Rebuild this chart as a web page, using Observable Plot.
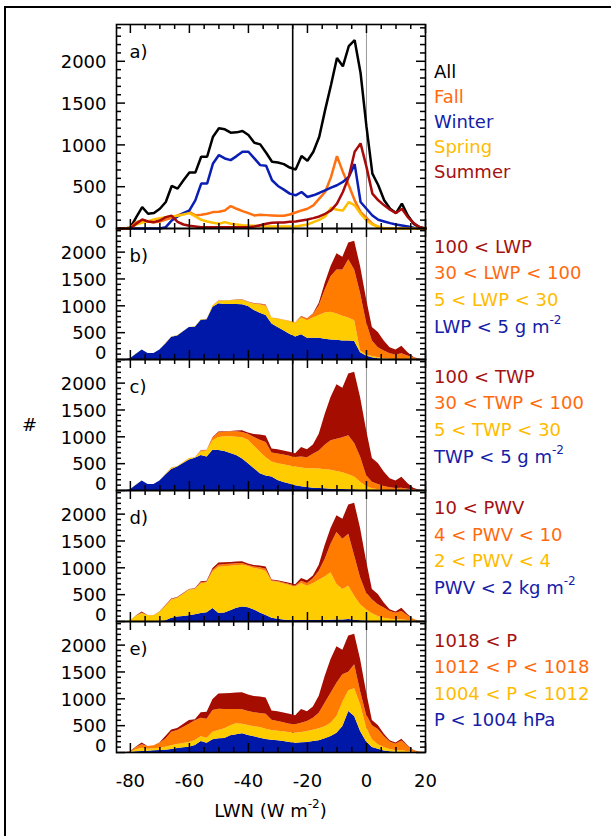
<!DOCTYPE html>
<html>
<head>
<meta charset="utf-8">
<script src="https://cdn.jsdelivr.net/npm/d3@7"></script>
<script src="https://cdn.jsdelivr.net/npm/@observablehq/plot@0.6"></script>
<style>
  html, body { margin: 0; padding: 0; background: white; }
  #fig { position: relative; width: 611px; height: 836px; background: white; overflow: hidden;
         font-family: "DejaVu Sans", sans-serif; font-size: 18px; }
  #fig svg { position: absolute; left: 0; }
  .t { position: absolute; white-space: nowrap; line-height: 18px; font-size: 18px; }
  .sup { font-size: 12px; position: relative; top: -9px; }
</style>
</head>
<body>
<div id="fig"></div>
<script>
// ---------- data ----------
const lwn = [-84,-82,-80,-78,-76,-74,-72,-70,-68,-66,
             -64,-62,-60,-58,-56,-54,-52,-50,-48,-46,
             -44,-42,-40,-38,-36,-34,-32,-30,-28,-26,
             -24,-22,-20,-18,-16,-14,-12,-10,-8,-6,
             -4,-2,0,2,4,6,8,10,12,14,
             16,18,20];
const xTicks = [-80, -60, -40, -20, 0, 20];
const yTicks = [0, 500, 1000, 1500, 2000];
const panelLabels = ["a)", "b)", "c)", "d)", "e)"];

// panel a: seasonal histograms
const allCases = [0,0,10,136,256,176,184,236,317,509,
  477,577,669,669,858,858,1098,1198,1186,1146,
  1150,1166,1118,1026,1006,906,798,790,770,729,
  705,866,810,918,1098,1419,1719,2040,1940,2180,
  2252,1860,1218,657,517,337,236,184,297,156,
  56,16,0];
const fall = [0,0,8,76,96,84,76,84,108,128,
  156,184,196,156,164,176,196,200,216,268,
  236,208,184,156,164,160,156,152,152,168,
  192,216,236,277,357,437,617,866,677,517,
  337,196,128,56,16,0,0,0,0,0,
  0,0,0];
const winter = [0,0,0,0,0,0,0,0,16,96,
  144,184,216,337,537,537,778,878,838,818,
  866,918,918,838,758,750,577,509,465,417,
  397,437,377,397,425,457,489,517,557,617,
  770,317,236,156,104,84,64,48,36,24,
  8,0,0];
const spring = [0,0,8,48,72,88,108,124,136,144,
  152,168,184,144,104,84,68,56,76,56,
  48,40,36,32,28,24,24,24,24,24,
  24,36,48,76,104,144,248,224,216,317,
  277,176,96,48,24,0,0,0,0,0,
  0,0,0];
const summer = [0,0,4,56,108,84,76,96,136,152,
  80,48,32,24,16,16,16,16,16,16,
  16,16,16,24,40,56,68,72,72,80,
  84,96,108,124,144,176,216,297,437,617,
  918,1018,737,417,337,277,224,184,236,136,
  64,16,0];

// total of the stacked panels b) - e)
const stackTotal = [0,0,13,101,176,113,113,176,296,421,
  447,522,598,610,742,749,988,1088,1094,1101,
  1107,1113,1069,1044,1032,1013,774,761,736,711,
  686,799,761,849,1050,1415,1730,1969,1906,2170,
  2202,1730,1132,598,503,346,220,176,245,132,
  44,6,0];

// panel b: upper edges (cumulative) of LWP classes
const lwpLt5 = [0,0,13,100,176,113,113,176,290,415,
  440,516,595,600,730,740,975,1038,1025,1025,
  1025,1019,988,912,862,818,660,598,535,472,
  421,459,396,396,396,377,365,359,346,346,
  333,126,63,31,13,6,0,0,0,0,
  0,0,0];
const lwp5to30 = [0,0,13,101,176,113,113,176,294,419,
  445,520,598,608,740,747,1000,1080,1088,1094,
  1100,1105,1060,1030,1013,988,770,749,730,705,
  673,774,723,774,818,868,880,849,805,774,
  723,157,82,57,31,19,6,0,0,0,
  0,0,0];
const lwp30to100 = [0,0,13,101,176,113,113,176,296,421,
  447,522,598,610,742,749,985,1085,1092,1098,
  1104,1110,1066,1040,1028,1005,772,757,736,711,
  686,790,755,840,1000,1289,1541,1667,1667,1856,
  1667,1227,692,346,220,157,107,82,107,63,
  31,6,0];

// panel c: TWP classes
const twpLt5 = [0,0,12,100,176,113,112,176,290,390,
  440,505,570,600,650,625,750,744,725,688,
  650,588,500,406,312,269,250,188,150,119,
  88,69,56,44,38,31,25,19,19,12,
  12,6,0,0,0,0,0,0,0,0,
  0,0,0];
const twp5to30 = [0,0,12,101,176,113,113,176,294,410,
  445,518,590,606,719,738,925,988,1000,1000,
  994,981,938,825,719,612,531,500,481,456,
  438,419,406,406,400,388,375,356,331,294,
  250,156,75,31,12,0,0,0,0,0,
  0,0,0];
const twp30to100 = [0,0,12,101,176,113,113,176,296,419,
  447,522,598,610,738,749,980,1075,1085,1095,
  1094,1081,1050,988,938,894,700,680,660,640,
  615,625,612,675,738,844,925,956,981,1019,
  875,625,281,156,112,75,50,38,44,25,
  12,6,0];

// panel d: PWV classes
const pwvLt2 = [0,0,0,0,0,0,0,5,15,60,
  85,95,105,125,150,165,240,150,160,200,
  245,270,255,215,160,110,60,40,30,20,
  20,20,20,20,20,20,25,30,30,35,
  25,15,8,0,0,0,0,0,0,0,
  0,0,0];
const pwv2to4 = [0,0,12,100,144,106,106,170,281,394,
  431,505,580,595,700,720,920,1010,1020,1030,
  1040,1050,1025,988,969,931,740,731,700,669,
  644,706,656,706,769,831,906,688,594,656,
  469,313,219,144,94,62,44,31,31,19,
  6,0,0];
const pwv4to10 = [0,0,12,100,160,110,110,174,288,408,
  440,514,590,603,722,735,955,1050,1060,1068,
  1075,1080,1045,1015,1000,975,758,745,719,688,
  656,750,706,794,938,1156,1438,1656,1531,1625,
  1219,813,531,406,313,250,188,156,188,106,
  44,6,0];

// panel e: surface pressure classes
const pLt1004 = [0,0,0,12,19,25,31,37,43,56,
  75,87,99,130,205,174,236,255,261,311,
  329,348,317,292,267,242,230,217,205,186,
  174,180,186,205,217,255,298,360,484,764,
  671,391,200,93,60,30,12,6,0,0,
  0,0,0];
const p1004to1012 = [0,0,6,50,81,62,68,81,99,124,
  149,168,186,224,292,267,379,410,441,497,
  534,528,503,478,466,435,410,397,385,366,
  360,373,391,416,441,478,546,671,938,1150,
  1186,888,466,236,143,93,56,31,37,12,
  0,0,0];
const p1012to1018 = [0,0,6,93,143,112,124,174,248,379,
  410,466,528,590,640,621,782,807,801,801,
  801,795,764,739,727,714,602,578,553,528,
  515,546,578,640,733,919,1105,1292,1447,1497,
  1633,1136,702,500,430,300,195,155,215,115,
  35,5,0];

// ---------- styles ----------
const lineColors = {all: "#000000", fall: "#ff7010", winter: "#0a1eb4", spring: "#ffbf00", summer: "#a80a0a"};
const fills = ["#0018a8", "#ffcc00", "#ff7c00", "#a50d00"];
const textColors = {red: "#a51010", orange: "#ff6a0d", yellow: "#ffbb00", blue: "#1420a8", black: "#000"};

const PLOT_LEFT = 116, PLOT_RIGHT = 425, FIG_W = 611;
const innerW = PLOT_RIGHT - PLOT_LEFT;
const minorX = d3.range(-80, 21, 5).filter(v => v % 20 !== 0);
const minorY = d3.range(100, 2440, 100).filter(v => v % 500 !== 0);

function makePanel({H, label, marks, bottomAxis = false}) {
  const mt = 2, mb = bottomAxis ? 50 : 2;
  const tick = (data, ch, opts) => (ch === "x"
    ? Plot.tickX(data, {x: d => d, stroke: "black", strokeWidth: 1.5, ...opts})
    : Plot.tickY(data, {y: d => d, stroke: "black", strokeWidth: 1.5, ...opts}));
  return Plot.plot({
    width: FIG_W, height: H + mt + mb,
    marginLeft: PLOT_LEFT, marginRight: FIG_W - PLOT_RIGHT, marginTop: mt, marginBottom: mb,
    x: {domain: [-84.7, 20], axis: null, label: null},
    y: {domain: [0, 2440], axis: null, label: null},
    style: {fontFamily: "DejaVu Sans, sans-serif", fontSize: "18px", background: "transparent", color: "black", overflow: "visible"},
    marks: [
      Plot.ruleX([-25], {stroke: "black", strokeWidth: 1.6}),
      Plot.ruleX([0], {stroke: "#9a9a9a", strokeWidth: 1}),
      ...marks,
      tick(xTicks, "x", {insetTop: H - 9}),
      tick(xTicks, "x", {insetBottom: H - 9}),
      tick(minorX, "x", {insetTop: H - 5}),
      tick(minorX, "x", {insetBottom: H - 5}),
      tick(yTicks, "y", {insetRight: innerW - 9}),
      tick(yTicks, "y", {insetLeft: innerW - 9}),
      tick(minorY, "y", {insetRight: innerW - 5}),
      tick(minorY, "y", {insetLeft: innerW - 5}),
      Plot.frame({stroke: "black", strokeWidth: 1.6}),
      Plot.axisY({ticks: yTicks.filter(v => v > 0), tickSize: 0, tickPadding: 10, fontSize: 18, dy: 1, tickFormat: d => String(d), label: null}),
      Plot.axisY({ticks: [0], tickSize: 0, tickPadding: 10, fontSize: 18, dy: -6, tickFormat: d => String(d), label: null}),
      Plot.text([label], {text: d => d, frameAnchor: "top-left", dx: 13, dy: 21, fontSize: 18, textAnchor: "start"}),
      bottomAxis ? Plot.axisX({ticks: xTicks, tickSize: 0, tickPadding: 22, fontSize: 18, tickFormat: d => String(d), label: null}) : null
    ]
  });
}

function lineMark(series, color) {
  return Plot.line(lwn, {x: d => d, y: (d, i) => series[i], stroke: color, strokeWidth: 2.5, strokeLinejoin: "miter"});
}

function bands(edges) {
  // edges: cumulative upper edges of each class; last one = stacked total
  const marks = [];
  let lower = lwn.map(() => 0);
  edges.forEach((upper, k) => {
    const rows = lwn.map((x, i) => ({x, lo: lower[i], hi: Math.max(lower[i], upper[i])}));
    marks.push(Plot.areaY(rows, {x: "x", y1: "lo", y2: "hi", fill: fills[k]}));
    lower = rows.map(r => r.hi);
  });
  return marks;
}

const fig = document.getElementById("fig");
const panels = [
  {top: 24, H: 204, label: panelLabels[0], marks: [
    lineMark(allCases, lineColors.all),
    lineMark(fall, lineColors.fall),
    lineMark(winter, lineColors.winter),
    lineMark(spring, lineColors.spring),
    lineMark(summer, lineColors.summer)
  ]},
  {top: 228, H: 131, label: panelLabels[1], marks: bands([lwpLt5, lwp5to30, lwp30to100, stackTotal])},
  {top: 359, H: 131, label: panelLabels[2], marks: bands([twpLt5, twp5to30, twp30to100, stackTotal])},
  {top: 490, H: 131, label: panelLabels[3], marks: bands([pwvLt2, pwv2to4, pwv4to10, stackTotal])},
  {top: 621, H: 131, label: panelLabels[4], marks: bands([pLt1004, p1004to1012, p1012to1018, stackTotal]), bottomAxis: true}
];
panels.forEach(p => {
  const svg = makePanel(p);
  svg.style.top = (p.top - 2) + "px";
  fig.appendChild(svg);
});

// ---------- text: legends, axis titles, outer border ----------
function addText(html, left, baseline, color, extra = "") {
  const d = document.createElement("div");
  d.className = "t";
  d.style.left = left + "px";
  d.style.top = (baseline - 15) + "px";
  d.style.color = color;
  if (extra) d.style.cssText += extra;
  d.innerHTML = html;
  fig.appendChild(d);
}
const sup = '<span class="sup">-2</span>';
const legends = [
  [["All", textColors.black, 78], ["Fall", textColors.orange, 103], ["Winter", textColors.blue, 128], ["Spring", textColors.yellow, 153], ["Summer", textColors.red, 178]],
  [["100 &lt; LWP", textColors.red, 253], ["30 &lt; LWP &lt; 100", textColors.orange, 279], ["5 &lt; LWP &lt; 30", textColors.yellow, 306], ["LWP &lt; 5 g m" + sup, textColors.blue, 333]],
  [["100 &lt; TWP", textColors.red, 383], ["30 &lt; TWP &lt; 100", textColors.orange, 409], ["5 &lt; TWP &lt; 30", textColors.yellow, 436], ["TWP &lt; 5 g m" + sup, textColors.blue, 463]],
  [["10 &lt; PWV", textColors.red, 514], ["4 &lt; PWV &lt; 10", textColors.orange, 541], ["2 &lt; PWV &lt; 4", textColors.yellow, 567], ["PWV &lt; 2 kg m" + sup, textColors.blue, 594]],
  [["1018 &lt; P", textColors.red, 647], ["1012 &lt; P &lt; 1018", textColors.orange, 673], ["1004 &lt; P &lt; 1012", textColors.yellow, 700], ["P &lt; 1004 hPa", textColors.blue, 726]]
];
legends.forEach(group => group.forEach(([txt, col, base]) => addText(txt, 434, base, col)));

addText("#", 22, 431, "#000");
addText("LWN (W m" + sup + ")", 0, 817, "#000", "width:541px;text-align:center;");

const border = document.createElement("div");
border.style.cssText = "position:absolute;left:4px;top:6px;width:700px;height:900px;border-left:2px solid #000;border-top:2px solid #000;";
fig.appendChild(border);
</script>
</body>
</html>
